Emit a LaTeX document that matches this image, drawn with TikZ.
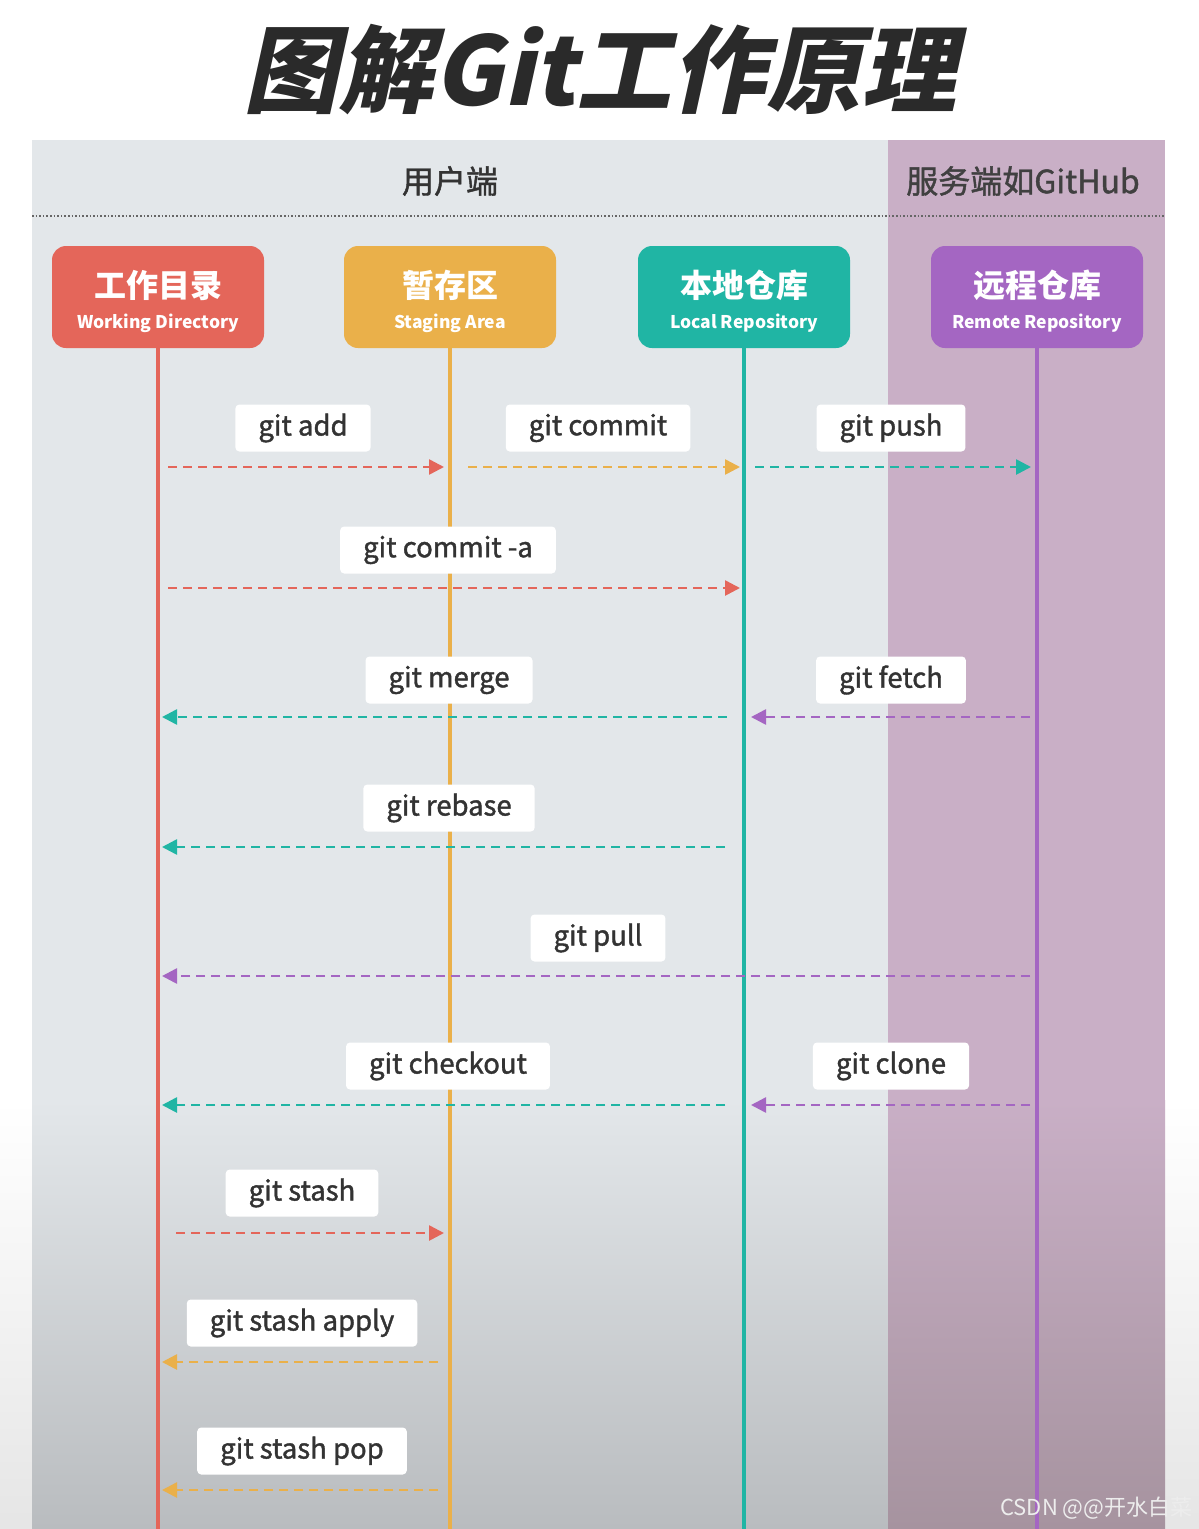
\documentclass[tikz,border=0pt]{standalone}
\usepackage{fontspec}
\setmainfont{Noto Sans CJK SC}
\newfontfamily\cjktitle{Noto Sans CJK SC}[FakeSlant=0.22]
\newfontfamily\medfont{Noto Sans CJK SC}[FakeBold=1.4]
\usetikzlibrary{arrows.meta}
\definecolor{bgA}{HTML}{E3E7EA}
\definecolor{bgB}{HTML}{B9BCBF}
\definecolor{srvA}{HTML}{C9AFC6}
\definecolor{srvB}{HTML}{A6939F}
\definecolor{cRed}{HTML}{E4665A}
\definecolor{cOra}{HTML}{EAB04A}
\definecolor{cTeal}{HTML}{20B5A4}
\definecolor{cPur}{HTML}{A466C2}
\definecolor{txt}{HTML}{333333}
\definecolor{ttl}{HTML}{2A2A2A}
\newcommand{\topstrut}{\rule{0pt}{36pt}}
\tikzset{
  repobox/.style={rounded corners=14pt, minimum width=212pt, minimum height=102pt,
    text=white, align=center, inner sep=0pt, font=\fontsize{17.5}{31}\selectfont},
  lifeline/.style={line width=4pt},
  lbl/.style={fill=white, rounded corners=4pt, minimum height=47pt, inner xsep=23pt,
    text=txt, font=\medfont\fontsize{27.5}{30}\selectfont},
  arr/.style={line width=2.6pt, dash pattern=on 9pt off 6pt,
    -{Triangle[length=15pt,width=15pt]}},
  hdr/.style={font=\medfont\fontsize{32}{34}\selectfont}
}
\begin{document}
\begin{tikzpicture}[x=1pt,y=-1pt]
\useasboundingbox (0,0) rectangle (1199,1529);
\fill[white] (0,0) rectangle (1199,1529);
\shade[top color=white, bottom color=white!80!gray] (0,1100) rectangle (1199,1529);
% panels
\fill[bgA] (32,140) rectangle (888,1100);
\shade[top color=bgA, bottom color=bgB] (32,1100) rectangle (888,1529);
\fill[srvA] (888,140) rectangle (1165,1100);
\shade[top color=srvA, bottom color=srvB] (888,1100) rectangle (1165,1529);
\draw[line width=1.6pt, dotted, black!60] (32,216) -- (1165,216);
% title
\node[font=\cjktitle\bfseries\fontsize{95}{105}\selectfont, text=ttl] (title) at (600,70) {图解Git工作原理};
\node[hdr, text=txt] (user) at (450,181) {用户端};
\node[hdr, text=black!75] (server) at (1023,181) {服务端如GitHub};
% repo boxes
\node[repobox, fill=cRed] (wd) at (158,297) {\topstrut{\fontsize{32}{36}\selectfont\bfseries 工作目录}\\{\bfseries Working Directory}};
\node[repobox, fill=cOra] (st) at (450,297) {\topstrut{\fontsize{32}{36}\selectfont\bfseries 暂存区}\\{\bfseries Staging Area}};
\node[repobox, fill=cTeal] (lr) at (744,297) {\topstrut{\fontsize{32}{36}\selectfont\bfseries 本地仓库}\\{\bfseries Local Repository}};
\node[repobox, fill=cPur] (rr) at (1037,297) {\topstrut{\fontsize{32}{36}\selectfont\bfseries 远程仓库}\\{\bfseries Remote Repository}};
% lifeline ends
\coordinate (wdEnd) at (158,1529);
\coordinate (stEnd) at (450,1529);
\coordinate (lrEnd) at (744,1529);
\coordinate (rrEnd) at (1037,1529);
\draw[lifeline, cRed] (wd.south) -- (wdEnd);
\draw[lifeline, cOra] (st.south) -- (stEnd);
\draw[lifeline, cTeal] (lr.south) -- (lrEnd);
\draw[lifeline, cPur] (rr.south) -- (rrEnd);
% labels
\node[lbl] (Ladd) at (303,428) {git add};
\node[lbl] (Lcommit) at (598,428) {git commit};
\node[lbl] (Lpush) at (891,428) {git push};
\node[lbl] (Lcommita) at (448,550) {git commit -a};
\node[lbl] (Lmerge) at (449,680) {git merge};
\node[lbl] (Lfetch) at (891,680) {git fetch};
\node[lbl] (Lrebase) at (449,808) {git rebase};
\node[lbl] (Lpull) at (598,938) {git pull};
\node[lbl] (Lcheckout) at (448,1066) {git checkout};
\node[lbl] (Lclone) at (891,1066) {git clone};
\node[lbl] (Lstash) at (302,1193) {git stash};
\node[lbl] (Lapply) at (302,1323) {git stash apply};
\node[lbl] (Lpop) at (302,1451) {git stash pop};
% arrow end points
\coordinate (a1s) at (168,467);  \coordinate (a1e) at (444,467);
\coordinate (a2s) at (468,467);  \coordinate (a2e) at (740,467);
\coordinate (a3s) at (755,467);  \coordinate (a3e) at (1031,467);
\coordinate (a4s) at (168,588);  \coordinate (a4e) at (740,588);
\coordinate (a5s) at (727,717);  \coordinate (a5e) at (162,717);
\coordinate (a6s) at (1030,717); \coordinate (a6e) at (751,717);
\coordinate (a7s) at (725,847);  \coordinate (a7e) at (162,847);
\coordinate (a8s) at (1030,976); \coordinate (a8e) at (162,976);
\coordinate (a9s) at (725,1105); \coordinate (a9e) at (162,1105);
\coordinate (a10s) at (1030,1105); \coordinate (a10e) at (751,1105);
\coordinate (a11s) at (176,1233); \coordinate (a11e) at (444,1233);
\coordinate (a12s) at (438,1362); \coordinate (a12e) at (162,1362);
\coordinate (a13s) at (438,1490); \coordinate (a13e) at (162,1490);
\draw[arr, cRed] (a1s) -- (a1e);
\draw[arr, cOra] (a2s) -- (a2e);
\draw[arr, cTeal] (a3s) -- (a3e);
\draw[arr, cRed] (a4s) -- (a4e);
\draw[arr, cTeal] (a5s) -- (a5e);
\draw[arr, cPur] (a6s) -- (a6e);
\draw[arr, cTeal] (a7s) -- (a7e);
\draw[arr, cPur] (a8s) -- (a8e);
\draw[arr, cTeal] (a9s) -- (a9e);
\draw[arr, cPur] (a10s) -- (a10e);
\draw[arr, cRed] (a11s) -- (a11e);
\draw[arr, cOra] (a12s) -- (a12e);
\draw[arr, cOra] (a13s) -- (a13e);
% watermark
\node[anchor=east, text=white!93!black, font=\fontsize{22}{24}\selectfont] (wm) at (1196,1508) {CSDN @@开水白菜};
\end{tikzpicture}
\end{document}
